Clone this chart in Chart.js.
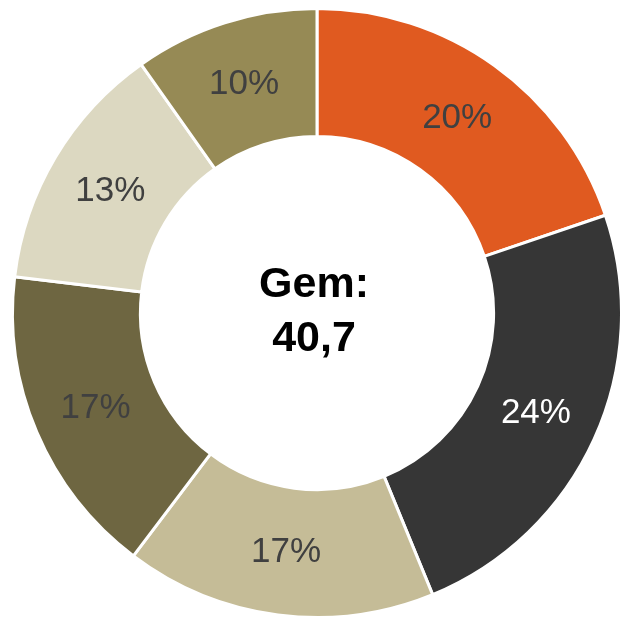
<!DOCTYPE html>
<html>
<head>
<meta charset="utf-8">
<script src="https://cdn.jsdelivr.net/npm/chart.js@4"></script>
<style>
    body { margin: 0; background: #fff; }
</style>
</head>
<body>
<canvas id="graficoDonut" width="623" height="620"></canvas>
<script>
// Dados do gráfico
const categorias = ['A', 'B', 'C', 'D', 'E', 'F'];
const valores = [19.8, 24.0, 16.5, 16.6, 13.3, 9.8];
const cores = ['#E05A20', '#363636', '#C5BC97', '#6E6641', '#DCD8C1', '#968A55'];
const coresTexto = ['#404040', '#FFFFFF', '#404040', '#404040', '#404040', '#404040'];
const textoCentro = ['Gem:', '40,7'];

// Plugin para escrever as porcentagens e o texto do meio
const pluginRotulos = {
    id: 'rotulos',
    afterDatasetsDraw(chart) {
        const ctx = chart.ctx;
        const meta = chart.getDatasetMeta(0);
        ctx.save();
        ctx.textAlign = 'center';
        ctx.textBaseline = 'middle';
        ctx.font = '35px "Liberation Sans", Arial, sans-serif';
        meta.data.forEach(function (arco, i) {
            const pos = arco.tooltipPosition();
            ctx.fillStyle = coresTexto[i];
            ctx.fillText(Math.round(valores[i]) + '%', pos.x, pos.y + 1);
        });

        // Texto no centro
        const cx = meta.data[0].x;
        ctx.fillStyle = '#000000';
        ctx.font = 'bold 43px "Liberation Sans", Arial, sans-serif';
        ctx.textBaseline = 'alphabetic';
        ctx.fillText(textoCentro[0], cx - 3, 297);
        ctx.fillText(textoCentro[1], cx - 3, 351);
        ctx.restore();
    }
};

const config = {
    type: 'doughnut',
    data: {
        labels: categorias,
        datasets: [{
            data: valores,
            backgroundColor: cores,
            borderColor: '#FFFFFF',
            borderWidth: 3
        }]
    },
    options: {
        responsive: false,
        animation: false,
        cutout: '58%',
        layout: {
            padding: { left: 11, right: 0, top: 6, bottom: 0 }
        },
        plugins: {
            legend: { display: false },
            tooltip: { enabled: false }
        }
    },
    plugins: [pluginRotulos]
};

let meuGrafico = new Chart(document.getElementById('graficoDonut'), config);
</script>
</body>
</html>
